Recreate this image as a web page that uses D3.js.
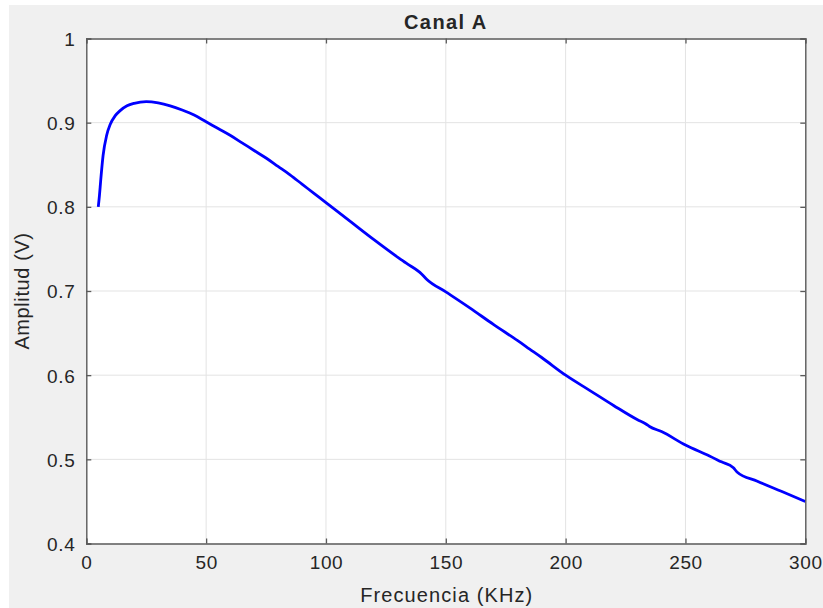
<!DOCTYPE html>
<html>
<head>
<meta charset="utf-8">
<script src="https://cdn.jsdelivr.net/npm/d3@7/dist/d3.min.js"></script>
<style>
  html, body { margin: 0; padding: 0; background: #ffffff; }
  svg { display: block; }
  text { font-family: "Liberation Sans", Arial, Helvetica, sans-serif; fill: #262626; }
</style>
</head>
<body>
<script>
// Measured frequency response of channel A
const frecuencia = [5, 5.5, 6, 7, 8.5, 10, 12, 14, 17, 20, 25, 30, 35, 40, 45, 50, 55, 60, 65, 70,
  75, 80, 85, 90, 95, 100, 110, 120, 130, 132, 133.5, 140, 142, 150, 160, 170, 180, 185,
  190, 200, 210, 220, 230, 233.5, 235, 240, 250, 260, 265, 270, 271.5, 280, 290, 300];
const amplitud = [0.800, 0.814, 0.831, 0.861, 0.885, 0.898, 0.908, 0.914, 0.920, 0.923, 0.925,
  0.9235, 0.920, 0.915, 0.909, 0.901, 0.893, 0.885, 0.876, 0.867, 0.858, 0.848, 0.838, 0.827,
  0.816, 0.805, 0.783, 0.761, 0.740, 0.736, 0.733, 0.720, 0.714, 0.699, 0.680, 0.660,
  0.641, 0.631, 0.621, 0.600, 0.582, 0.564, 0.547, 0.542, 0.539, 0.533, 0.517, 0.504, 0.497,
  0.490, 0.485, 0.474, 0.462, 0.450];

const xTicks = [0, 50, 100, 150, 200, 250, 300];
const yTicks = [0.4, 0.5, 0.6, 0.7, 0.8, 0.9, 1];
const titulo = "Canal A";
const etiquetaX = "Frecuencia (KHz)";
const etiquetaY = "Amplitud (V)";

const W = 823, H = 608;
const plot = { left: 86.3, right: 805.3, top: 38.5, bottom: 543.5 };

const svg = d3.select("body").append("svg").attr("width", W).attr("height", H);

// figure background
svg.append("rect").attr("x", 9).attr("y", 5).attr("width", W - 9).attr("height", H - 5)
  .attr("fill", "#f0f0f0");

const x = d3.scaleLinear().domain([0, 300]).range([plot.left, plot.right]);
const y = d3.scaleLinear().domain([0.4, 1]).range([plot.bottom, plot.top]);

// plot area
svg.append("rect").attr("x", plot.left).attr("y", plot.top)
  .attr("width", plot.right - plot.left).attr("height", plot.bottom - plot.top)
  .attr("fill", "#ffffff");

// grid
const grid = svg.append("g").attr("stroke", "#e3e3e3").attr("stroke-width", 1);
grid.selectAll("line.gx").data(xTicks.slice(1, -1)).join("line")
  .attr("x1", d => x(d)).attr("x2", d => x(d))
  .attr("y1", plot.top).attr("y2", plot.bottom);
grid.selectAll("line.gy").data(yTicks.slice(1, -1)).join("line")
  .attr("x1", plot.left).attr("x2", plot.right)
  .attr("y1", d => y(d)).attr("y2", d => y(d));

// data line
const line = d3.line().x((d, i) => x(frecuencia[i])).y(d => y(d)).curve(d3.curveMonotoneX);
svg.append("path").datum(amplitud)
  .attr("d", line)
  .attr("fill", "none")
  .attr("stroke", "#0000ff")
  .attr("stroke-width", 2.8)
  .attr("stroke-linejoin", "round")
  .attr("stroke-linecap", "butt");

// axes with inward ticks
const axisColor = "#5a5a5a";
const bottomAxis = svg.append("g").attr("transform", `translate(0,${plot.bottom})`)
  .call(d3.axisBottom(x).tickValues(xTicks).tickSize(-5).tickPadding(12).tickFormat(d3.format("d")));
const topAxis = svg.append("g").attr("transform", `translate(0,${plot.top})`)
  .call(d3.axisTop(x).tickValues(xTicks).tickSize(-5).tickFormat(""));
const leftAxis = svg.append("g").attr("transform", `translate(${plot.left},0)`)
  .call(d3.axisLeft(y).tickValues(yTicks).tickSize(-5).tickPadding(11)
    .tickFormat(d => d === 1 ? "1" : d3.format(".1f")(d)));
const rightAxis = svg.append("g").attr("transform", `translate(${plot.right},0)`)
  .call(d3.axisRight(y).tickValues(yTicks).tickSize(-5).tickFormat(""));

[bottomAxis, topAxis, leftAxis, rightAxis].forEach(g => {
  g.select(".domain").attr("stroke", axisColor).attr("stroke-width", 1.4);
  g.selectAll(".tick line").attr("stroke", axisColor).attr("stroke-width", 1.3);
  g.selectAll(".tick text").attr("fill", "#303030")
    .style("font-family", "'Liberation Sans', Arial, sans-serif")
    .style("font-size", "19px")
    .style("letter-spacing", "0.6px");
});
leftAxis.selectAll(".tick text").attr("dy", "0.36em");

// title and axis labels
svg.append("text").attr("x", (plot.left + plot.right) / 2).attr("y", 29)
  .attr("text-anchor", "middle")
  .style("font-size", "20px").style("font-weight", "bold").style("letter-spacing", "1.4px")
  .attr("fill", "#1a1a1a")
  .text(titulo);

svg.append("text").attr("x", (plot.left + plot.right) / 2 + 1).attr("y", 602)
  .attr("text-anchor", "middle")
  .style("font-size", "20px").style("letter-spacing", "1.1px")
  .attr("fill", "#303030")
  .text(etiquetaX);

svg.append("text")
  .attr("transform", `translate(29,${(plot.top + plot.bottom) / 2}) rotate(-90)`)
  .attr("text-anchor", "middle")
  .style("font-size", "20px").style("letter-spacing", "0.6px")
  .attr("fill", "#303030")
  .text(etiquetaY);
</script>
</body>
</html>
